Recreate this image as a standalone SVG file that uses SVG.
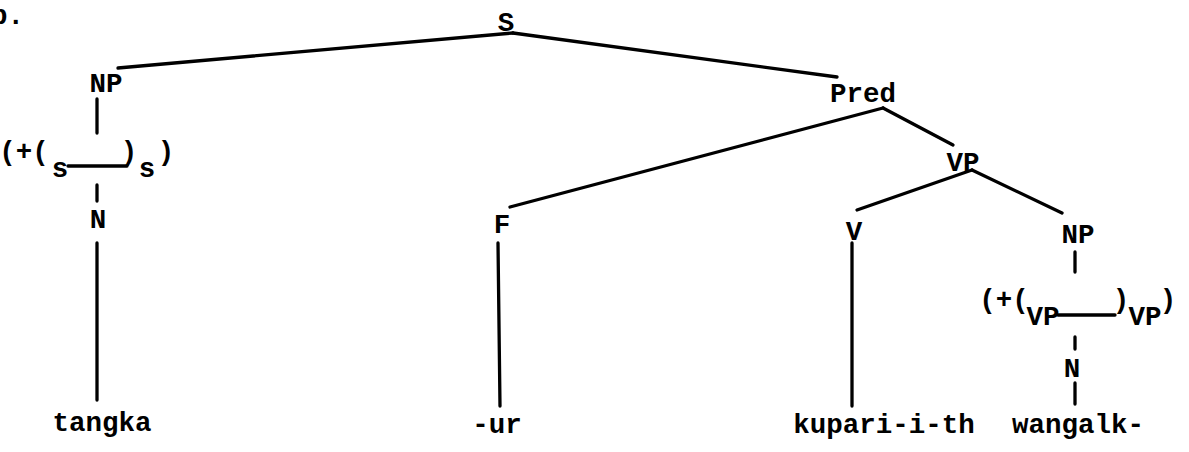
<svg xmlns="http://www.w3.org/2000/svg" width="1189" height="452" viewBox="0 0 1189 452">
<style>
text{font-family:"Liberation Mono","DejaVu Sans Mono",monospace;font-weight:bold;font-size:27.5px;fill:#000;text-anchor:middle}
.e{stroke:#000;stroke-width:3.3;stroke-linecap:round;fill:none}
</style>
<rect width="1189" height="452" fill="#fff"/>
<text x="-9" y="24" style="text-anchor:start">b.</text>
<g id="connectors">
<line class="e" x1="513" y1="33" x2="118" y2="68"/>
<line class="e" x1="513" y1="33" x2="837" y2="77"/>
<line class="e" x1="97" y1="99" x2="97" y2="133"/>
<line class="e" x1="68" y1="166" x2="127" y2="166"/>
<line class="e" x1="97" y1="185" x2="97" y2="201"/>
<line class="e" x1="97" y1="243" x2="97" y2="400"/>
<line class="e" x1="883" y1="108" x2="510" y2="207"/>
<line class="e" x1="883" y1="108" x2="953" y2="145"/>
<line class="e" x1="498" y1="243" x2="500" y2="406"/>
<line class="e" x1="972" y1="170" x2="857" y2="210"/>
<line class="e" x1="972" y1="170" x2="1062" y2="213"/>
<line class="e" x1="852" y1="243" x2="852" y2="406"/>
<line class="e" x1="1075" y1="252" x2="1075" y2="272"/>
<line class="e" x1="1058" y1="315" x2="1115" y2="315"/>
<line class="e" x1="1075" y1="337" x2="1075" y2="349"/>
<line class="e" x1="1075" y1="383" x2="1075" y2="404"/>
</g>
<g id="n-S"><text x="506" y="31">S</text></g>
<g id="n-NP1"><text x="106" y="92">NP</text></g>
<g id="n-bracket1">
<text x="24" y="160">(+(</text>
<text x="60" y="177">s</text>
<text x="129" y="160">)</text>
<text x="147" y="177">s</text>
<text x="166" y="160">)</text>
</g>
<g id="n-N1"><text x="98" y="228">N</text></g>
<g id="n-tangka"><text x="102" y="431">tangka</text></g>
<g id="n-Pred"><text x="863" y="102">Pred</text></g>
<g id="n-F"><text x="502" y="233">F</text></g>
<g id="n-ur"><text x="497" y="433">-ur</text></g>
<g id="n-VP"><text x="963" y="171">VP</text></g>
<g id="n-V"><text x="854" y="240">V</text></g>
<g id="n-kupari"><text x="884" y="433">kupari-i-th</text></g>
<g id="n-NP2"><text x="1078" y="243">NP</text></g>
<g id="n-bracket2">
<text x="1004" y="308">(+(</text>
<text x="1043" y="325">VP</text>
<text x="1121" y="308">)</text>
<text x="1145" y="325">VP</text>
<text x="1168" y="308">)</text>
</g>
<g id="n-N2"><text x="1072" y="377">N</text></g>
<g id="n-wangalk"><text x="1078" y="433">wangalk-</text></g>
</svg>
